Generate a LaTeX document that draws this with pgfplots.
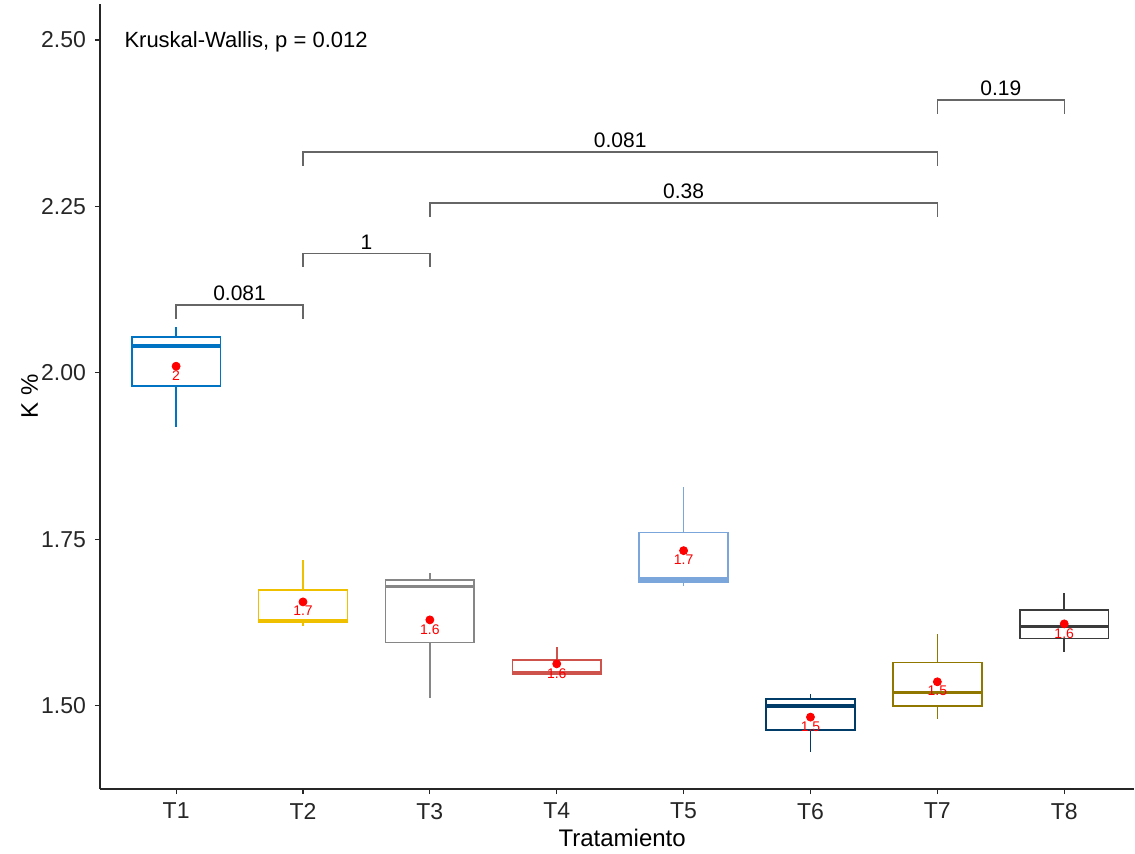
\documentclass[border=0pt]{standalone}
\usepackage{fontspec}
\setmainfont{Liberation Sans}
\usepackage{pgfplots}
\pgfplotsset{compat=1.18}
\usepgfplotslibrary{statistics}
\definecolor{c1}{HTML}{0073C2}
\definecolor{c2}{HTML}{EFC000}
\definecolor{c3}{HTML}{868686}
\definecolor{c4}{HTML}{CD534C}
\definecolor{c5}{HTML}{7AA6DC}
\definecolor{c6}{HTML}{003C67}
\definecolor{c7}{HTML}{8F7700}
\definecolor{c8}{HTML}{3B3B3B}
\definecolor{brk}{HTML}{666666}
\begin{document}
\begin{tikzpicture}
\begin{axis}[
  at={(0,0)}, anchor=south west,
  scale only axis, width=517pt, height=392.5pt,
  xmin=0.4, xmax=8.55, ymin=1.375, ymax=2.554,
  axis x line=bottom, axis y line=left,
  axis line style={-, line width=1pt, black!85},
  xtick={1,...,8}, xticklabels={T1,T2,T3,T4,T5,T6,T7,T8},
  ytick={1.5,1.75,2,2.25,2.5},
  yticklabel style={/pgf/number format/fixed, /pgf/number format/fixed zerofill, /pgf/number format/precision=2},
  /pgf/number format/assume math mode=true,
  tick align=outside, major tick length=2.5pt,
  tick style={black!85, line width=0.6pt},
  ticklabel style={font=\fontsize{11.5}{13}\selectfont, text=black!85},
  xticklabel style={yshift=-1pt},
  yticklabel style={xshift=-1pt},
  xlabel={Tratamiento}, ylabel={K \%},
  label style={font=\fontsize{12}{14}\selectfont},
  xlabel style={at={(axis description cs:0.505,-0.0625)}, anchor=center},
  ylabel style={at={(axis description cs:-0.068,0.5)}, anchor=center},
  boxplot/draw direction=y,
  boxplot/whisker extend=0,
  boxplot/box extend=0.7,
  boxplot/every box/.style={line width=0.8pt},
  boxplot/every whisker/.style={line width=0.8pt},
  boxplot/every median/.style={line width=1.8pt},
  clip=false,
]
\addplot[draw=c1, line width=0.8pt, boxplot prepared={lower whisker=1.919, lower quartile=1.980, median=2.040, upper quartile=2.054, upper whisker=2.069, draw position=1}] coordinates {};
\addplot[draw=c2, line width=0.8pt, boxplot prepared={lower whisker=1.620, lower quartile=1.626, median=1.628, upper quartile=1.674, upper whisker=1.719, draw position=2}] coordinates {};
\addplot[draw=c3, line width=0.8pt, boxplot prepared={lower whisker=1.511, lower quartile=1.595, median=1.679, upper quartile=1.689, upper whisker=1.700, draw position=3}] coordinates {};
\addplot[draw=c4, line width=0.8pt, boxplot prepared={lower whisker=1.548, lower quartile=1.548, median=1.550, upper quartile=1.569, upper whisker=1.589, draw position=4}] coordinates {};
\addplot[draw=c5, line width=0.8pt, boxplot prepared={lower whisker=1.680, lower quartile=1.686, median=1.690, upper quartile=1.760, upper whisker=1.829, draw position=5}] coordinates {};
\addplot[draw=c6, line width=0.8pt, boxplot prepared={lower whisker=1.431, lower quartile=1.464, median=1.500, upper quartile=1.510, upper whisker=1.518, draw position=6}] coordinates {};
\addplot[draw=c7, line width=0.8pt, boxplot prepared={lower whisker=1.480, lower quartile=1.500, median=1.520, upper quartile=1.565, upper whisker=1.608, draw position=7}] coordinates {};
\addplot[draw=c8, line width=0.8pt, boxplot prepared={lower whisker=1.581, lower quartile=1.601, median=1.619, upper quartile=1.644, upper whisker=1.670, draw position=8}] coordinates {};
% means
\addplot[only marks, mark=*, mark size=2pt, red, nodes near coords, point meta=explicit symbolic,
  every node near coord/.append style={anchor=north, yshift=-1.5pt, font=\fontsize{7}{8}\selectfont, text=red, inner sep=0.5pt}]
  table[meta=lab] {
x y lab
1 2.010 2
2 1.656 1.7
3 1.629 1.6
4 1.563 1.6
5 1.733 1.7
6 1.483 1.5
7 1.536 1.5
8 1.623 1.6
};
% brackets
\addplot[brk, line width=0.7pt] coordinates {(1,2.081) (1,2.102) (2,2.102) (2,2.081)};
\addplot[brk, line width=0.7pt] coordinates {(2,2.159) (2,2.179) (3,2.179) (3,2.159)};
\addplot[brk, line width=0.7pt] coordinates {(3,2.234) (3,2.255) (7,2.255) (7,2.234)};
\addplot[brk, line width=0.7pt] coordinates {(2,2.311) (2,2.332) (7,2.332) (7,2.311)};
\addplot[brk, line width=0.7pt] coordinates {(7,2.389) (7,2.410) (8,2.410) (8,2.389)};
\node[anchor=south, font=\fontsize{10.5}{12}\selectfont, inner sep=2pt] at (axis cs:1.5,2.102) {0.081};
\node[anchor=south, font=\fontsize{10.5}{12}\selectfont, inner sep=2pt] at (axis cs:2.5,2.179) {1};
\node[anchor=south, font=\fontsize{10.5}{12}\selectfont, inner sep=2pt] at (axis cs:5,2.255) {0.38};
\node[anchor=south, font=\fontsize{10.5}{12}\selectfont, inner sep=2pt] at (axis cs:4.5,2.332) {0.081};
\node[anchor=south, font=\fontsize{10.5}{12}\selectfont, inner sep=2pt] at (axis cs:7.5,2.410) {0.19};
\node[anchor=west, font=\fontsize{11}{13}\selectfont, inner sep=0pt] at (axis cs:0.59,2.497) {Kruskal-Wallis, p = 0.012};
\end{axis}
\pgfresetboundingbox
\useasboundingbox (-50pt,-32pt) rectangle (517.5pt,394.5pt);
\end{tikzpicture}
\end{document}
